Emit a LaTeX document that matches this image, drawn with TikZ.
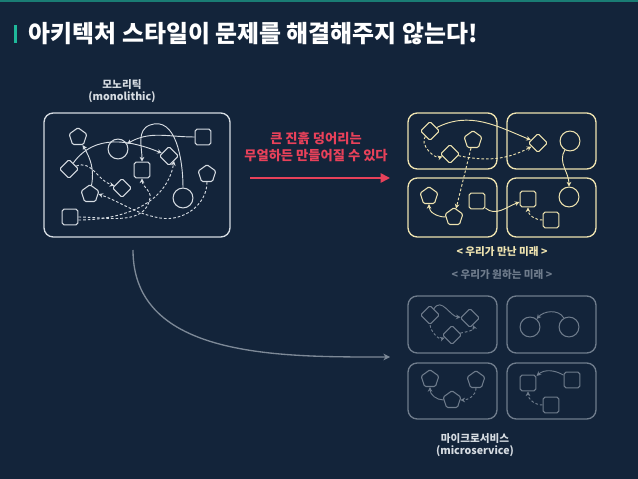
\documentclass[tikz,border=0pt]{standalone}
\usepackage{fontspec}
\setmainfont{Noto Sans CJK KR}
\usetikzlibrary{shapes.geometric,arrows.meta}
\definecolor{bg}{HTML}{13243A}
\definecolor{teal}{HTML}{1FB89A}
\definecolor{hot}{HTML}{E8415A}
\definecolor{mono}{HTML}{D6DCE2}
\definecolor{done}{HTML}{EEE3B0}
\definecolor{want}{HTML}{6F7C8C}
\tikzset{
  sq/.style={draw,rectangle,rounded corners=1.5pt,minimum size=12pt,inner sep=0pt},
  dia/.style={draw,rectangle,rounded corners=1pt,rotate=45,minimum size=10pt,inner sep=0pt},
  pent/.style={draw,regular polygon,regular polygon sides=5,rounded corners=1pt,minimum size=14pt,inner sep=0pt},
  circ/.style={draw,circle,minimum size=15pt,inner sep=0pt},
  panel/.style={rounded corners=7pt,line width=1pt},
  link/.style={line width=0.7pt,-{Stealth[length=3.5pt,width=3.5pt]}},
  dlink/.style={link,dashed,dash pattern=on 2pt off 1.5pt},
  lbl/.style={font=\fontsize{8}{9}\selectfont\bfseries}
}
\begin{document}
\begin{tikzpicture}[x=0.0265cm,y=-0.0265cm,line width=0.8pt]
\fill[bg] (0,0) rectangle (638,479);
\useasboundingbox (0,0) rectangle (638,479);
\fill[teal!60!bg] (0,0) rectangle (638,2);
\fill[teal] (14,25) rectangle (17,43);
\node[anchor=west,white,font=\fontsize{18}{20}\selectfont\bfseries] (title) at (24,34) {아키텍처 스타일이 문제를 해결해주지 않는다!};

% monolith
\begin{scope}[mono]
\node[lbl,align=center] (mlbl) at (122,91) {모노리틱\\(monolithic)};
\draw[panel] (44,113) rectangle (230,237);
\node[pent] (m1) at (78,137) {};
\node[dia]  (m2) at (69,169) {};
\node[pent] (m3) at (90,194) {};
\node[sq]   (m4) at (70,217) {};
\node[circ] (m5) at (118,149) {};
\node[sq]   (m6) at (142,170) {};
\node[dia]  (m7) at (122,188) {};
\node[dia]  (m8) at (169,156) {};
\node[sq]   (m9) at (203,137) {};
\node[pent] (m10) at (207,174) {};
\node[circ] (m11) at (183,198) {};
\draw[link] (m2) to[out=45,in=150] (m8);
\draw[link] (m9) to[out=180,in=30] (m5);
\draw[link] (m11.north) to[out=90,in=20] (150,125) to[out=200,in=90] (m6.north);
\draw[link] (m3) to[out=80,in=-60] (m1);
\draw[dlink] (m2) to[out=10,in=150] (m7);
\draw[dlink] (m4) to[out=0,in=260] (150,198) to[out=80,in=-90] (m6.south);
\draw[dlink] (m4.east) ++(0,3) to[out=0,in=-100] (m8.south);
\draw[dlink] (m10.south) to[out=-90,in=-10] (160,218) to[out=170,in=-20] (m3.east);
\end{scope}

% arrow with message
\node[hot,align=center,font=\fontsize{10}{13}\selectfont\bfseries] (msg) at (316,147) {큰 진흙 덩어리는\\무얼하든 만들어질 수 있다};
\coordinate (ma) at (250,178);
\coordinate (mb) at (390,178);
\draw[hot,line width=1.3pt,-{Stealth[length=7pt,width=7pt,inset=0pt]}] (ma) -- (mb);

% what we got
\begin{scope}[done]
\draw[panel] (408,113) rectangle (497,169);
\draw[panel] (507,113) rectangle (596,169);
\draw[panel] (408,178) rectangle (497,237);
\draw[panel] (507,178) rectangle (596,237);
\node[dia]  (a1) at (430,131) {};
\node[dia]  (a2) at (450,154) {};
\node[pent] (a3) at (473,140) {};
\node[dia]  (a4) at (538,143) {};
\node[circ] (a5) at (570,141) {};
\node[pent] (a6) at (429,196) {};
\node[pent] (a7) at (454,217) {};
\node[sq]   (a8) at (477,201) {};
\node[sq]   (a9) at (528,199) {};
\node[circ] (a10) at (569,197) {};
\node[sq]   (a11) at (551,220) {};
\draw[link] (a1) to[out=20,in=150] (a4);
\draw[dlink] (a1) to[out=210,in=180] (a2);
\draw[dlink] (a2) to[out=-20,in=200] (a4);
\draw[dlink] (a3) to (a7);
\draw[link] (a7) to[out=180,in=-90] (a6);
\draw[link] (a5) to[out=-120,in=90] (a10);
\draw[link] (a8) to[out=-40,in=200] (a9);
\draw[dlink] (a11) to[out=180,in=-90] (a9);
\node[lbl] (glbl) at (502,252) {< 우리가 만난 미래 >};
\end{scope}

% what we want
\begin{scope}[want]
\node[lbl] (wlbl) at (502,275) {< 우리가 원하는 미래 >};
\draw[panel] (408,296) rectangle (497,353);
\draw[panel] (507,296) rectangle (596,353);
\draw[panel] (408,363) rectangle (497,419);
\draw[panel] (507,363) rectangle (596,419);
\node[dia]  (w1) at (430,315) {};
\node[dia]  (w2) at (470,318) {};
\node[dia]  (w3) at (452,335) {};
\node[circ] (w4) at (530,327) {};
\node[circ] (w5) at (569,327) {};
\node[pent] (w6) at (430,379) {};
\node[pent] (w7) at (452,400) {};
\node[pent] (w8) at (476,380) {};
\node[sq]   (w9) at (528,383) {};
\node[sq]   (w10) at (572,380) {};
\node[sq]   (w11) at (551,405) {};
\draw[link] (w1) to[out=40,in=160] (w2);
\draw[dlink] (w1) to[out=-110,in=180] (w3);
\draw[dlink] (w3) to[out=-10,in=-90] (w2);
\draw[link] (w5) to[out=120,in=50] (w4);
\draw[link] (w7) to[out=180,in=-90] (w6);
\draw[dlink] (w8) to[out=-90,in=0] (w7);
\draw[link] (w10) to[out=150,in=40] (w9);
\draw[dlink] (w11) to[out=180,in=-90] (w9);
\end{scope}
\node[mono,lbl,align=center] (ulbl) at (475,445) {마이크로서비스\\(microservice)};

% migration curve
\coordinate (ca) at (133,250);
\coordinate (cb) at (390,357);
\draw[want!90!white,line width=1pt,-{Stealth[length=5pt,width=5pt]}] (ca) to[out=-90,in=180] (cb);
\end{tikzpicture}
\end{document}
